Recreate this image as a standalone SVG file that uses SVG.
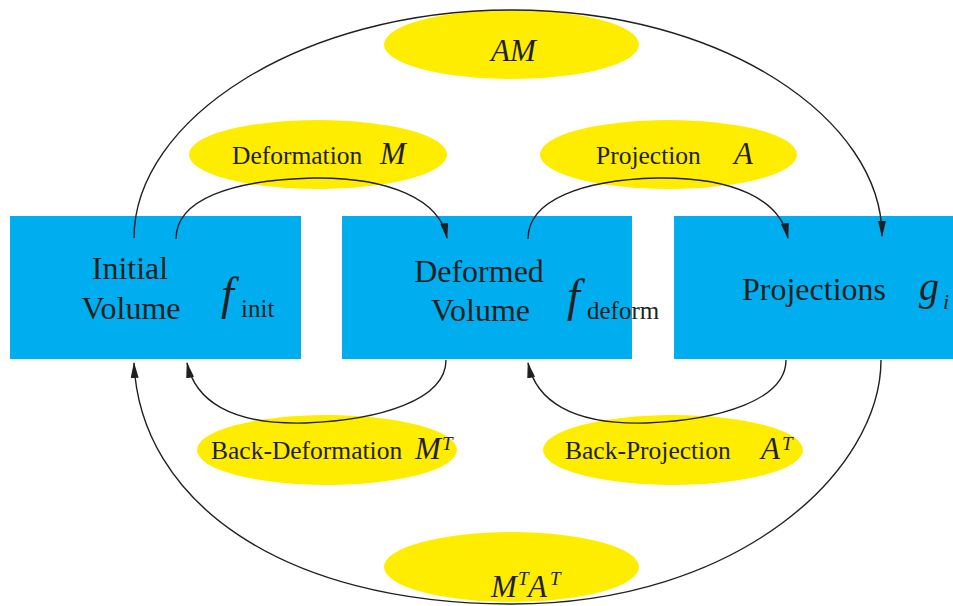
<svg xmlns="http://www.w3.org/2000/svg" width="953" height="606" viewBox="0 0 953 606">
  <style>
    .box { fill: #00AEEF; }
    .ell { fill: #FFED00; }
    text { font-family: "Liberation Serif", "Times New Roman", serif; fill: #231F20; }
    .big { font-size: 32px; }
    .lbl { font-size: 25.5px; }
    .math { font-size: 31px; font-style: italic; }
    .sup { font-size: 19px; font-style: italic; }
    .sub { font-size: 25px; }
    .fn { font-size: 46px; font-style: italic; }
    .conn { fill: none; stroke: #231F20; stroke-width: 1.4; marker-end: url(#arr); }
  </style>
  <defs>
    <marker id="arr" viewBox="0 0 16 8" refX="15" refY="4" markerWidth="16" markerHeight="8" markerUnits="userSpaceOnUse" orient="auto">
      <path d="M0,0 L16,4 L0,8 z" fill="#231F20"/>
    </marker>
  </defs>

  <g id="label-AM"><ellipse class="ell" cx="511.5" cy="44.5" rx="127.5" ry="34.5"/></g>
  <g id="label-deformation"><ellipse class="ell" cx="318" cy="154.5" rx="129" ry="34.5"/></g>
  <g id="label-projection"><ellipse class="ell" cx="668.5" cy="154.5" rx="128.5" ry="34.5"/></g>
  <g id="label-backdeformation"><ellipse class="ell" cx="327" cy="450" rx="130" ry="35"/></g>
  <g id="label-backprojection"><ellipse class="ell" cx="673" cy="450" rx="130" ry="35"/></g>
  <g id="label-MTAT"><ellipse class="ell" cx="511.5" cy="567" rx="127.5" ry="35"/></g>

  <g id="node-initial"><rect class="box" x="10" y="216" width="291" height="143"/></g>
  <g id="node-deformed"><rect class="box" x="342" y="216" width="290" height="143"/></g>
  <g id="node-projections"><rect class="box" x="674" y="216" width="279" height="143"/></g>

  <g id="connectors">
    <path class="conn" d="M176,239 C176,200 230,180 313,178 C390,177 440,200 447,238"/>
    <path class="conn" d="M528,239 C528,200 582,180 657,178 C735,177 780,200 788,238"/>
    <path class="conn" d="M134,238 C134,120 300,10 512,10 C724,10 882,120 882,236"/>
    <path class="conn" d="M446,360 C446,400 380,420 305,423 C230,425 195,400 187,363"/>
    <path class="conn" d="M786,360 C786,400 720,420 646,423 C571,425 536,400 528,363"/>
    <path class="conn" d="M881,360 C881,470 740,604 512,604 C280,604 140,500 134,363"/>
  </g>

  <g id="texts">
    <text class="big" x="130" y="279" text-anchor="middle">Initial</text>
    <text class="big" x="131" y="319" text-anchor="middle">Volume</text>
    <text class="fn" x="221" y="309">f</text>
    <text class="sub" x="241" y="317">init</text>

    <text class="big" x="479" y="282" text-anchor="middle">Deformed</text>
    <text class="big" x="480.5" y="321" text-anchor="middle">Volume</text>
    <text class="fn" x="567" y="311">f</text>
    <text class="sub" x="587" y="319">deform</text>

    <text class="big" x="742" y="300">Projections</text>
    <text x="919" y="300" font-size="40" font-style="italic">g</text>
    <text x="943" y="309" font-size="22" font-style="italic">i</text>

    <text class="math" x="491" y="61" font-size="32">AM</text>

    <text class="lbl" x="232" y="164">Deformation</text>
    <text class="math" x="380" y="164">M</text>
    <text class="lbl" x="596" y="164">Projection</text>
    <text class="math" x="734" y="164">A</text>

    <text class="lbl" x="211" y="459">Back-Deformation</text>
    <text class="math" x="415" y="459">M</text>
    <text class="sup" x="442" y="450">T</text>
    <text class="lbl" x="565" y="459">Back-Projection</text>
    <text class="math" x="761" y="459">A</text>
    <text class="sup" x="782" y="450">T</text>

    <text class="math" x="491" y="597">M</text>
    <text class="sup" x="518" y="585">T</text>
    <text class="math" x="528" y="597">A</text>
    <text class="sup" x="550" y="585">T</text>
  </g>
</svg>
